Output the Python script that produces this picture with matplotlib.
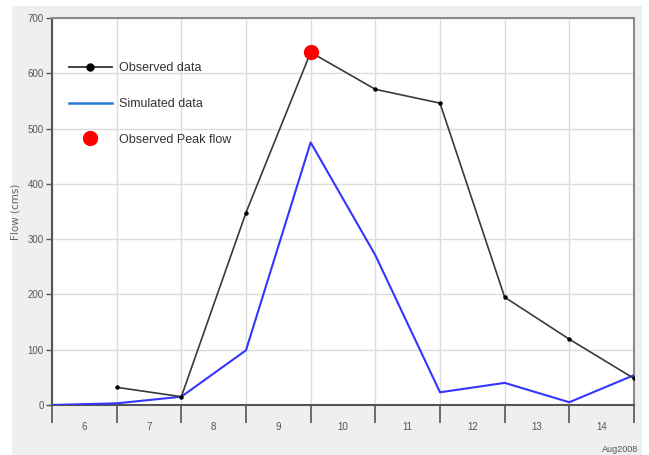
import matplotlib
matplotlib.use("Agg")
import matplotlib.pyplot as plt
from matplotlib.lines import Line2D
from matplotlib.patches import Rectangle
from matplotlib.ticker import MultipleLocator, FixedLocator, NullFormatter, FixedFormatter

# ---- data ----
obs_days = [7, 8, 9, 10, 11, 12, 13, 14, 15]
obs_flow = [32, 15, 348, 638, 571, 546, 195, 119, 48]
sim_days = [6, 7, 8, 9, 10, 11, 12, 13, 14, 15]
sim_flow = [0, 3, 15, 99, 475, 271, 23, 40, 5, 54]
peak_day = [10]
peak_flow = [638]
day_labels = ["6", "7", "8", "9", "10", "11", "12", "13", "14"]
label_pos = [6.5, 7.5, 8.5, 9.5, 10.5, 11.5, 12.5, 13.5, 14.5]

FONT = ["Liberation Sans Narrow", "Liberation Sans", "DejaVu Sans"]

fig = plt.figure(figsize=(6.49, 4.55), dpi=100)
fig.patch.set_facecolor("white")
fig.patches.append(Rectangle((12/649, 0), (642-12)/649, (455-6)/455,
                             transform=fig.transFigure, facecolor="#efefef",
                             edgecolor="none", zorder=-10))

ax = fig.add_axes([52/649, 50/455, 582/649, 387/455])
ax.set_facecolor("white")

ax.plot(sim_days, sim_flow, color="#3535ff", lw=1.5, zorder=3)
ax.plot(obs_days, obs_flow, color="#3a3a3a", lw=1.2, marker="o", ms=2.2,
        mfc="black", mec="black", zorder=4)
ax.plot(peak_day, peak_flow, "o", color="red", ms=10, zorder=5)

ax.set_xlim(6, 15)
ax.set_ylim(0, 700)
ax.yaxis.set_major_locator(MultipleLocator(100))
ax.xaxis.set_major_locator(MultipleLocator(1))
ax.xaxis.set_major_formatter(NullFormatter())
ax.xaxis.set_minor_locator(FixedLocator(label_pos))
ax.xaxis.set_minor_formatter(FixedFormatter(day_labels))

ax.grid(True, which="major", color="#dcdcdc", lw=1.0, zorder=0)
ax.set_axisbelow(True)

ax.tick_params(axis="x", which="major", length=13, width=1.2, color="#555555", direction="out")
ax.tick_params(axis="x", which="minor", length=0, pad=12, labelsize=7, labelcolor="#555555")
ax.tick_params(axis="y", which="major", length=4, width=1.0, color="#555555",
               labelsize=7, labelcolor="#555555", pad=2)
for lab in ax.get_xticklabels(minor=True) + ax.get_yticklabels():
    lab.set_family(FONT)

for s in ["left", "bottom"]:
    ax.spines[s].set_color("#555555")
    ax.spines[s].set_linewidth(1.5)
for s in ["top", "right"]:
    ax.spines[s].set_color("#8a8a8a")
    ax.spines[s].set_linewidth(1.5)

ax.set_ylabel("Flow (cms)", fontsize=7.5, color="#666666", labelpad=5)

handles = [
    Line2D([], [], color="#333333", lw=1.3, marker="o", ms=5, mfc="black", mec="black"),
    Line2D([], [], color="#2a78d6", lw=1.8),
    Line2D([], [], color="red", lw=0, marker="o", ms=10),
]
labels = ["Observed data", "Simulated data", "Observed Peak flow"]
leg = ax.legend(handles, labels, loc="upper left", bbox_to_anchor=(0.01, 0.915),
                frameon=False, handlelength=3.4, labelspacing=1.9,
                handletextpad=0.6, prop={"family": FONT, "size": 9})
for t in leg.get_texts():
    t.set_color("#333333")

fig.text(620/649, 1 - 449/455, "Aug2008", fontsize=6.5, color="#555555",
         ha="center", va="center", family=FONT)

fig.savefig("out.png", dpi=100)
